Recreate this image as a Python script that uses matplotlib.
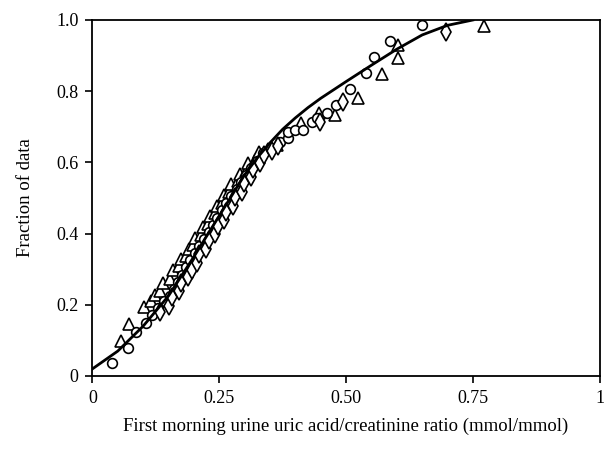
import matplotlib
matplotlib.use("Agg")
import matplotlib.pyplot as plt

# Fitted curve
curve_x = [0.0, 0.05, 0.10, 0.15, 0.20, 0.25, 0.30, 0.325, 0.35, 0.375, 0.40, 0.425, 0.45, 0.50, 0.55,
           0.60, 0.65, 0.70, 0.75]
curve_y = [0.02, 0.07, 0.14, 0.225, 0.335, 0.45, 0.565, 0.613, 0.655, 0.693, 0.725, 0.754, 0.78, 0.827, 0.873,
           0.918, 0.958, 0.985, 1.0]

# Triangles
tri_x = [0.056, 0.073, 0.101, 0.116, 0.124, 0.134, 0.140, 0.152, 0.158, 0.170, 0.174, 0.184, 0.190, 0.199,
         0.203, 0.214, 0.218, 0.228, 0.231, 0.242, 0.245, 0.255, 0.259, 0.270, 0.274, 0.286, 0.290, 0.302,
         0.306, 0.320, 0.328, 0.347, 0.364, 0.412, 0.447, 0.479, 0.524, 0.570, 0.603, 0.603, 0.772]
tri_y = [0.098, 0.147, 0.194, 0.210, 0.228, 0.240, 0.262, 0.272, 0.298, 0.308, 0.328, 0.337, 0.358, 0.367,
         0.388, 0.397, 0.418, 0.427, 0.448, 0.457, 0.478, 0.487, 0.508, 0.517, 0.538, 0.547, 0.568, 0.577,
         0.598, 0.607, 0.628, 0.638, 0.649, 0.711, 0.739, 0.733, 0.781, 0.848, 0.893, 0.930, 0.983]

# Circles
cir_x = [0.039, 0.070, 0.086, 0.105, 0.118, 0.130, 0.142, 0.152, 0.160, 0.168, 0.176, 0.185, 0.193, 0.202,
         0.211, 0.220, 0.229, 0.238, 0.246, 0.255, 0.264, 0.274, 0.284, 0.293, 0.303, 0.313, 0.324, 0.336,
         0.352, 0.370, 0.385, 0.386, 0.400, 0.415, 0.432, 0.443, 0.462, 0.481, 0.508, 0.539, 0.555, 0.587, 0.649]
cir_y = [0.037, 0.079, 0.124, 0.150, 0.170, 0.190, 0.210, 0.225, 0.245, 0.265, 0.285, 0.305, 0.325, 0.345,
         0.365, 0.385, 0.405, 0.425, 0.445, 0.465, 0.485, 0.505, 0.525, 0.545, 0.565, 0.585, 0.605, 0.625,
         0.640, 0.657, 0.668, 0.685, 0.691, 0.691, 0.713, 0.725, 0.739, 0.761, 0.806, 0.851, 0.896, 0.941, 0.986]

# Diamonds
dia_x = [0.134, 0.150, 0.156, 0.170, 0.174, 0.188, 0.197, 0.207, 0.211, 0.224, 0.229, 0.242, 0.247, 0.260,
         0.264, 0.277, 0.282, 0.294, 0.298, 0.312, 0.317, 0.331, 0.338, 0.354, 0.365, 0.449, 0.493, 0.697]
dia_y = [0.180, 0.198, 0.222, 0.238, 0.262, 0.278, 0.298, 0.318, 0.342, 0.358, 0.382, 0.398, 0.422, 0.438,
         0.462, 0.478, 0.502, 0.518, 0.542, 0.558, 0.582, 0.598, 0.622, 0.633, 0.645, 0.713, 0.770, 0.966]

x_ticks = [0, 0.25, 0.5, 0.75, 1]
x_labels = ["0", "0.25", "0.50", "0.75", "1"]
y_ticks = [0, 0.2, 0.4, 0.6, 0.8, 1.0]
y_labels = ["0", "0.2", "0.4", "0.6", "0.8", "1.0"]

plt.rcParams['font.family'] = ['Liberation Serif', 'DejaVu Serif']

fig = plt.figure(figsize=(6.04, 4.49), dpi=100)
ax = fig.add_axes([0.153, 0.1626, 0.840, 0.7929])

mk = dict(linestyle='none', markerfacecolor='white', markeredgecolor='black', markeredgewidth=1.2)
ax.plot(tri_x, tri_y, marker='^', markersize=8, **mk, zorder=3)
ax.plot(cir_x, cir_y, marker='o', markersize=7, **mk, zorder=3)
ax.plot(dia_x, dia_y, marker='d', markersize=9, **mk, zorder=3)
ax.plot(curve_x, curve_y, color='black', linewidth=2.0, zorder=4, solid_joinstyle='round')

ax.set_xlim(0, 1)
ax.set_ylim(0, 1)
ax.set_xticks(x_ticks)
ax.set_xticklabels(x_labels)
ax.set_yticks(y_ticks)
ax.set_yticklabels(y_labels)
ax.tick_params(direction='out', length=5, width=1.2, labelsize=13, pad=5, colors='black')
for s in ax.spines.values():
    s.set_linewidth(1.3)
    s.set_color('black')

ax.set_xlabel("First morning urine uric acid/creatinine ratio (mmol/mmol)", fontsize=13.5, labelpad=8)
ax.set_ylabel("Fraction of data", fontsize=13.5, labelpad=16)

fig.savefig("out.png", dpi=100)
